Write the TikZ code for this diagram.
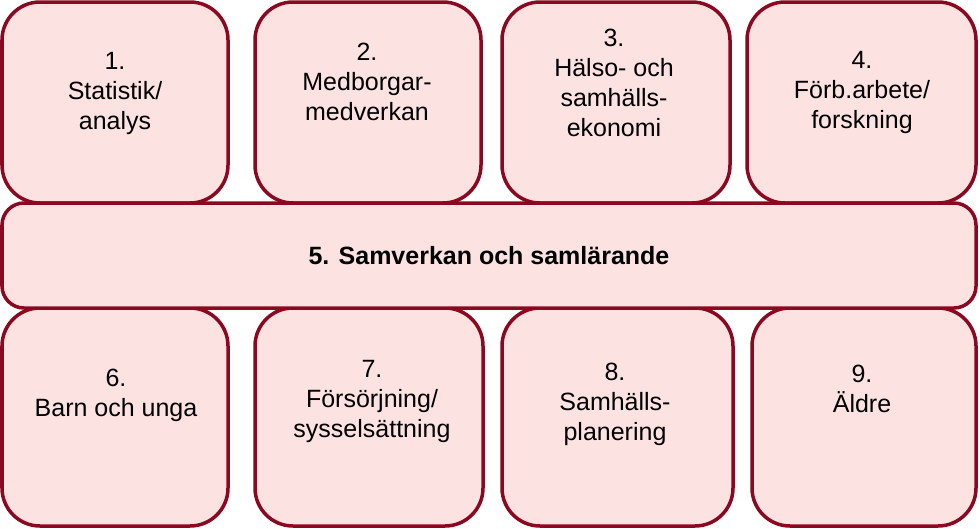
\documentclass[tikz,border=0pt]{standalone}
\usepackage{fontspec}
\setmainfont{Liberation Sans}
\usepackage{tikz}
\usetikzlibrary{positioning}

\definecolor{boxfill}{RGB}{253,226,226}
\definecolor{boxline}{RGB}{138,8,32}

\begin{document}
\begin{tikzpicture}[x=1pt,y=-1pt]

      \useasboundingbox (0,0) rectangle (980,528);

      \begin{scope}[every node/.style={draw=boxline,fill=boxfill,line width=3.5pt,
          rounded corners=38pt,inner sep=0pt}]
        \node[minimum width=226pt,minimum height=201pt] (b1) at (115,102.5) {};
        \node[minimum width=226pt,minimum height=201pt] (b2) at (368,102.5) {};
        \node[minimum width=228pt,minimum height=201pt] (b3) at (616,102.5) {};
        \node[minimum width=229pt,minimum height=201pt] (b4) at (861.5,102.5) {};
        \node[minimum width=226pt,minimum height=218pt] (b6) at (115,417) {};
        \node[minimum width=228pt,minimum height=218pt] (b7) at (369,417) {};
        \node[minimum width=231pt,minimum height=218pt] (b8) at (617.5,417) {};
        \node[minimum width=224pt,minimum height=218pt] (b9) at (864,417) {};
        \node[rounded corners=22pt,minimum width=974pt,minimum height=105pt] (bar) at (489,255.5) {};
      \end{scope}

      \begin{scope}[every node/.style={align=center,font=\fontsize{25}{30}\selectfont}]
        \node (t1) at (115,93) {1.\\Statistik/\\analys};
        \node (t2) at (367,82) {2.\\Medborgar-\\medverkan};
        \node (t3) at (614,83) {3.\\Hälso- och\\samhälls-\\ekonomi};
        \node (t4) at (862,92) {4.\\Förb.arbete/\\forskning};
        \node[font=\fontsize{25}{30}\selectfont\bfseries] (t5) at (bar) {5. Samverkan och samlärande};
        \node (t6) at (116,395) {6.\\Barn och unga};
        \node (t7) at (372,401) {7.\\Försörjning/\\sysselsättning};
        \node (t8) at (615,404) {8.\\Samhälls-\\planering};
        \node (t9) at (862,389) {9.\\Äldre};
      \end{scope}
    \end{tikzpicture}
\end{document}
